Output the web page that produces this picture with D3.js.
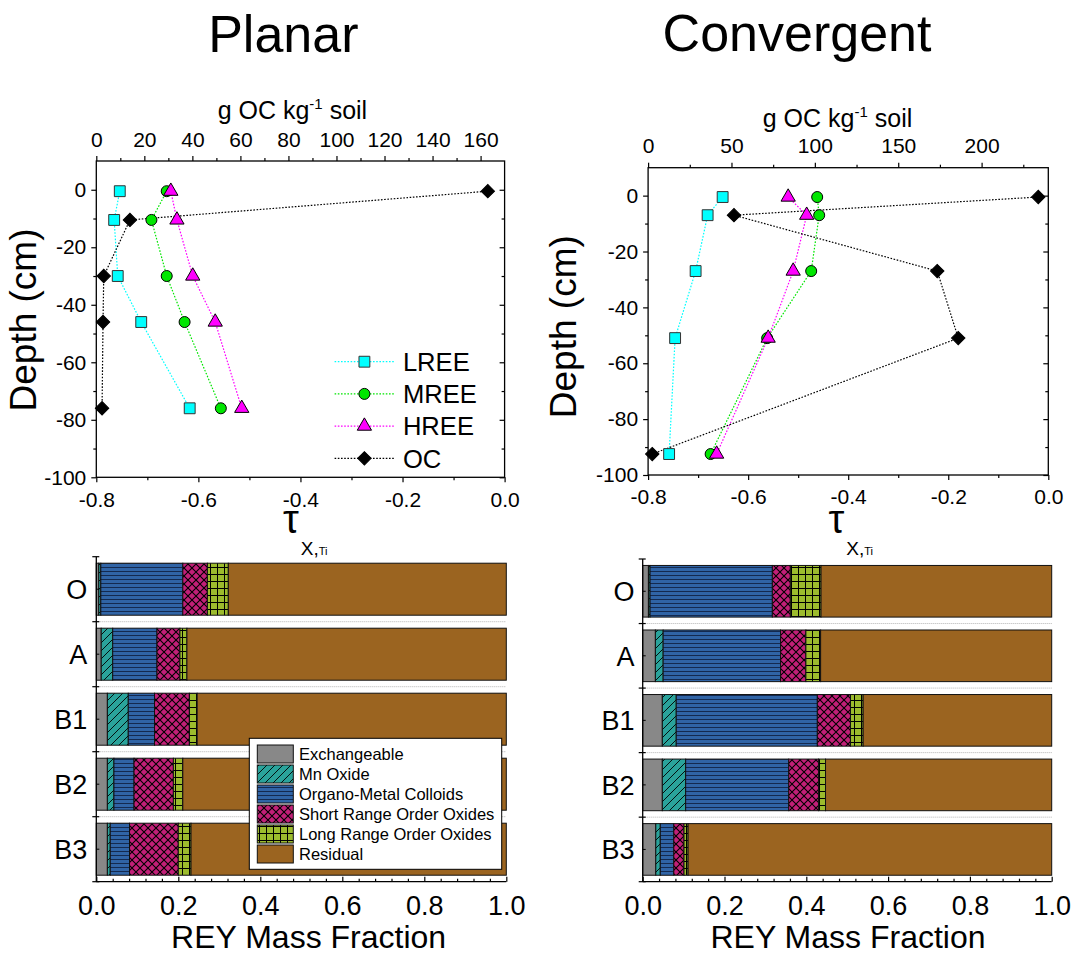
<!DOCTYPE html>
<html><head><meta charset="utf-8">
<script src="https://cdn.jsdelivr.net/npm/d3@7"></script>
<style>
body{margin:0;background:#fff;}
svg{font-family:"Liberation Sans",Arial,Helvetica,sans-serif;}
</style></head><body>
<svg id="chart" width="1073" height="956"></svg>
<script>
// ---------------- DATA ----------------
const seriesNames = ["LREE", "MREE", "HREE", "OC"];

const planarDepth = [-0.5, -10.5, -30, -46, -76];
const planarLREE  = [-0.754, -0.765, -0.758, -0.712, -0.617];
const planarMREE  = [-0.662, -0.692, -0.662, -0.627, -0.556];
const planarHREE  = [-0.654, -0.642, -0.611, -0.567, -0.515];
const planarOC    = [163, 14, 3.1, 2.8, 2.4];

const convDepth = [-0.5, -7, -27, -51, -92.5];
const convLREE  = [-0.651, -0.681, -0.705, -0.746, -0.758];
const convMREE  = [-0.462, -0.458, -0.474, -0.562, -0.675];
const convHREE  = [-0.520, -0.483, -0.510, -0.560, -0.663];
const convOC    = [234, 51.5, 173.4, 186, 2.5];

const depthTicks = [-100, -80, -60, -40, -20, 0];
const tauTicks = [-0.8, -0.6, -0.4, -0.2, 0.0];
const planarOCTicks = [0, 20, 40, 60, 80, 100, 120, 140, 160];
const convOCTicks = [0, 50, 100, 150, 200];
const fractionTicks = [0, 0.2, 0.4, 0.6, 0.8, 1.0];

const horizons = ["O", "A", "B1", "B2", "B3"];
const fractionNames = ["Exchangeable", "Mn Oxide", "Organo-Metal Colloids",
  "Short Range Order Oxides", "Long Range Order Oxides", "Residual"];

const planarExchangeable = [0.006, 0.012, 0.027, 0.027, 0.027];
const planarMnOxide      = [0.005, 0.028, 0.051, 0.016, 0.007];
const planarOrganoMetal  = [0.200, 0.108, 0.064, 0.049, 0.047];
const planarSRO          = [0.060, 0.056, 0.085, 0.096, 0.119];
const planarLRO          = [0.051, 0.017, 0.019, 0.023, 0.031];
const planarResidual     = [0.678, 0.779, 0.754, 0.789, 0.769];

const convExchangeable = [0.014, 0.031, 0.048, 0.048, 0.032];
const convMnOxide      = [0.004, 0.019, 0.034, 0.057, 0.011];
const convOrganoMetal  = [0.299, 0.287, 0.345, 0.252, 0.033];
const convSRO          = [0.044, 0.062, 0.081, 0.073, 0.025];
const convLRO          = [0.075, 0.036, 0.031, 0.017, 0.010];
const convResidual     = [0.564, 0.565, 0.461, 0.553, 0.889];

// ---------------- STYLE ----------------
const svg = d3.select("#chart");
const seriesColor = {LREE: "#00ffff", MREE: "#00e600", HREE: "#ff00ff", OC: "#000000"};
const seriesStroke = {LREE: "#333333", MREE: "#000", HREE: "#000", OC: "#000"};
const seriesSymbol = {
  LREE: d3.symbol().type(d3.symbolSquare).size(118)(),
  MREE: d3.symbol().type(d3.symbolCircle).size(95)(),
  HREE: d3.symbol().type(d3.symbolTriangle).size(88)(),
  OC:   d3.symbol().type(d3.symbolSquare).size(90)()
};
const seriesRotate = {LREE: 0, MREE: 0, HREE: 0, OC: 45};

const defs = svg.append("defs");
function pattern(id, w, h, bg, draw) {
  const p = defs.append("pattern").attr("id", id).attr("patternUnits", "userSpaceOnUse")
    .attr("width", w).attr("height", h);
  p.append("rect").attr("width", w).attr("height", h).attr("fill", bg);
  draw(p);
}
pattern("p-mn", 8, 8, "#2aa39b", p => p.append("path")
  .attr("d", "M-2,2L2,-2M0,8L8,0M6,10L10,6").attr("stroke", "#000").attr("stroke-width", 0.9));
pattern("p-org", 8, 4, "#3064a6", p => p.append("rect")
  .attr("y", 3).attr("width", 8).attr("height", 1).attr("fill", "#142a50"));
pattern("p-sro", 8, 8, "#c21f78", p => p.append("path")
  .attr("d", "M0,0L8,8M8,0L0,8").attr("stroke", "#000").attr("stroke-width", 1.1));
pattern("p-lro", 7, 7, "#9cbb2d", p => p.append("path")
  .attr("d", "M0,0.5H7M0.5,0V7").attr("stroke", "#000").attr("stroke-width", 1));
const fractionFill = ["#888888", "url(#p-mn)", "url(#p-org)", "url(#p-sro)", "url(#p-lro)", "#9b6420"];

function styleAxis(g, size) {
  g.select(".domain").remove();
  g.selectAll("line").attr("stroke", "#000").attr("stroke-width", 1.2);
  g.selectAll("text").attr("font-size", size).attr("fill", "#000")
    .attr("font-family", '"Liberation Sans", Arial, sans-serif');
}
const fmtInt = d => String(d);
const fmt1 = d => d.toFixed(1);

// ---------------- PROFILE PLOTS ----------------
function profile(cfg) {
  const g = svg.append("g");
  const y = d3.scaleLinear().domain([-100, 10]).range([cfg.y1, cfg.y0]);
  const x = d3.scaleLinear().domain([-0.8, 0]).range([cfg.x0, cfg.x1]);
  const xo = d3.scaleLinear().domain([0, cfg.ocMax]).range([cfg.x0, cfg.x1]);

  const depthMinor = depthTicks.slice(0, -1).map(d => d + 10);
  const tauMinor = tauTicks.slice(0, -1).map(d => d + 0.1);
  const ocStep = cfg.ocTicks[1] - cfg.ocTicks[0];
  const ocMinor = cfg.ocTicks.map(d => d + ocStep / 2).filter(d => d < cfg.ocMax - 1);

  g.append("g").attr("transform", `translate(${cfg.x0},0)`)
    .call(d3.axisLeft(y).tickValues(depthTicks).tickSize(5).tickSizeOuter(0).tickPadding(5).tickFormat(fmtInt))
    .call(a => styleAxis(a, 21));
  g.append("g").attr("transform", `translate(${cfg.x0},0)`)
    .call(d3.axisLeft(y).tickValues(depthMinor).tickSize(3).tickSizeOuter(0).tickFormat(""))
    .call(a => styleAxis(a, 21));
  g.append("g").attr("transform", `translate(${cfg.x1},0)`)
    .call(d3.axisRight(y).tickValues(depthTicks).tickSize(-5).tickSizeOuter(0).tickFormat(""))
    .call(a => styleAxis(a, 21));
  g.append("g").attr("transform", `translate(${cfg.x1},0)`)
    .call(d3.axisRight(y).tickValues(depthMinor).tickSize(-3).tickSizeOuter(0).tickFormat(""))
    .call(a => styleAxis(a, 21));
  g.append("g").attr("transform", `translate(0,${cfg.y1})`)
    .call(d3.axisBottom(x).tickValues(tauTicks).tickSize(5).tickSizeOuter(0).tickPadding(9.5).tickFormat(fmt1))
    .call(a => styleAxis(a, 21));
  g.append("g").attr("transform", `translate(0,${cfg.y1})`)
    .call(d3.axisBottom(x).tickValues(tauMinor).tickSize(3).tickSizeOuter(0).tickFormat(""))
    .call(a => styleAxis(a, 21));
  g.append("g").attr("transform", `translate(0,${cfg.y0})`)
    .call(d3.axisTop(xo).tickValues(cfg.ocTicks).tickSize(5).tickSizeOuter(0).tickPadding(9.5).tickFormat(fmtInt))
    .call(a => styleAxis(a, 21));
  g.append("g").attr("transform", `translate(0,${cfg.y0})`)
    .call(d3.axisTop(xo).tickValues(ocMinor).tickSize(3).tickSizeOuter(0).tickFormat(""))
    .call(a => styleAxis(a, 21));

  g.append("rect").attr("x", cfg.x0).attr("y", cfg.y0)
    .attr("width", cfg.x1 - cfg.x0).attr("height", cfg.y1 - cfg.y0)
    .attr("fill", "none").attr("stroke", "#000").attr("stroke-width", 1.3);

  const series = [
    {name: "LREE", vals: cfg.lree, xs: x},
    {name: "MREE", vals: cfg.mree, xs: x},
    {name: "HREE", vals: cfg.hree, xs: x},
    {name: "OC", vals: cfg.oc, xs: xo}
  ];
  const line = d3.line();
  series.forEach(s => {
    const pts = s.vals.map((v, i) => [s.xs(v), y(cfg.depth[i])]);
    g.append("path").attr("d", line(pts)).attr("fill", "none")
      .attr("stroke", seriesColor[s.name]).attr("stroke-width", 1.2)
      .attr("stroke-dasharray", "1.6,1.6");
  });
  series.forEach(s => {
    g.selectAll(null).data(s.vals).enter().append("path")
      .attr("d", seriesSymbol[s.name])
      .attr("transform", (v, i) => `translate(${s.xs(v)},${y(cfg.depth[i])}) rotate(${seriesRotate[s.name]})`)
      .attr("fill", seriesColor[s.name]).attr("stroke", seriesStroke[s.name]).attr("stroke-width", 1);
  });

  svg.append("text").attr("transform", `translate(${cfg.depthTitle[0]},${cfg.depthTitle[1]}) rotate(-90)`)
    .attr("text-anchor", "middle").attr("font-size", 37).text("Depth (cm)");
  const t = svg.append("text").attr("x", cfg.ocTitle[0]).attr("y", cfg.ocTitle[1])
    .attr("text-anchor", "middle").attr("font-size", 25);
  t.append("tspan").text("g OC kg");
  t.append("tspan").attr("dy", -10).attr("font-size", 15).text("-1");
  t.append("tspan").attr("dy", 10).text(" soil");
  const tau = svg.append("text").attr("x", cfg.tauTitle[0]).attr("y", cfg.tauTitle[1]).attr("font-size", 40);
  tau.append("tspan").text("τ");
  tau.append("tspan").attr("dy", 22).attr("dx", 2).attr("font-size", 19).text("X,");
  tau.append("tspan").attr("font-size", 11).text("Ti");
  svg.append("text").attr("x", cfg.title[0]).attr("y", cfg.title[1]).attr("text-anchor", "middle")
    .attr("font-size", 52).text(cfg.titleText);

  if (cfg.legend) {
    const lg = g.append("g");
    seriesNames.forEach((n, i) => {
      const yy = 361.7 + i * 32.2;
      lg.append("line").attr("x1", 334.6).attr("x2", 394.9).attr("y1", yy).attr("y2", yy)
        .attr("stroke", seriesColor[n]).attr("stroke-width", 1.2).attr("stroke-dasharray", "1.6,1.6");
      lg.append("path").attr("d", seriesSymbol[n])
        .attr("transform", `translate(364.4,${yy}) rotate(${seriesRotate[n]})`)
        .attr("fill", seriesColor[n]).attr("stroke", seriesStroke[n]).attr("stroke-width", 1);
      lg.append("text").attr("x", 402.9).attr("y", yy).attr("dy", "0.36em")
        .attr("font-size", 25.6).text(n);
    });
  }
}

profile({
  x0: 96.3, x1: 504.6, y0: 161, y1: 477.3, ocMax: 170, ocTicks: planarOCTicks,
  depth: planarDepth, lree: planarLREE, mree: planarMREE, hree: planarHREE, oc: planarOC,
  depthTitle: [36, 320], ocTitle: [292.4, 119.3], tauTitle: [283, 533], title: [283.3, 52],
  titleText: "Planar", legend: true
});
profile({
  x0: 648.1, x1: 1048.3, y0: 167.7, y1: 475, ocMax: 240, ocTicks: convOCTicks,
  depth: convDepth, lree: convLREE, mree: convMREE, hree: convHREE, oc: convOC,
  depthTitle: [576.4, 326.7], ocTitle: [837.5, 126.7], tauTitle: [828.5, 533], title: [797, 51],
  titleText: "Convergent", legend: false
});

// ---------------- BAR PLOTS ----------------
function bars(cfg) {
  const g = svg.append("g");
  const x = d3.scaleLinear().domain([0, 1]).range([cfg.x0, cfg.x1]);
  const y = d3.scaleBand().domain(horizons).range([cfg.y0, cfg.y1]).paddingInner(0.2).paddingOuter(0.1);
  const step = y.step();

  horizons.slice(1).forEach(h => {
    const yy = y(h) - step * 0.1;
    g.append("line").attr("x1", cfg.x0).attr("x2", cfg.x1).attr("y1", yy).attr("y2", yy)
      .attr("stroke", "#b3b3b3").attr("stroke-width", 1).attr("stroke-dasharray", "1,1");
  });

  const rows = horizons.map((h, i) => {
    const r = {h};
    fractionNames.forEach((k, j) => r[k] = cfg.arrays[j][i]);
    return r;
  });
  const stacked = d3.stack().keys(fractionNames)(rows);
  stacked.forEach((layer, j) => {
    g.selectAll(null).data(layer).enter().append("rect")
      .attr("x", d => x(d[0])).attr("width", d => x(d[1]) - x(d[0]))
      .attr("y", d => y(d.data.h)).attr("height", y.bandwidth())
      .attr("fill", fractionFill[j]).attr("stroke", "#111").attr("stroke-width", 1);
  });

  const bounds = d3.range(horizons.length + 1).map(i => cfg.y0 + i * step);
  const la = g.append("g");
  la.append("line").attr("x1", cfg.x0).attr("x2", cfg.x0).attr("y1", cfg.y0).attr("y2", cfg.y1)
    .attr("stroke", "#000").attr("stroke-width", 1.3);
  bounds.forEach(b => la.append("line").attr("x1", cfg.x0 - 4).attr("x2", cfg.x0 + 3)
    .attr("y1", b).attr("y2", b).attr("stroke", "#000").attr("stroke-width", 1.2));
  horizons.forEach(h => {
    const c = y(h) + y.bandwidth() / 2;
    la.append("line").attr("x1", cfg.x0).attr("x2", cfg.x0 + 3).attr("y1", c).attr("y2", c)
      .attr("stroke", "#000").attr("stroke-width", 1);
    la.append("text").attr("x", cfg.labelX).attr("y", c).attr("dy", "0.36em")
      .attr("text-anchor", "end").attr("font-size", 27).text(h);
  });

  const minor = d3.range(0.04, 1.0, 0.04).filter(v => Math.abs(v * 5 - Math.round(v * 5)) > 1e-6);
  g.append("line").attr("x1", cfg.x0).attr("x2", cfg.x1).attr("y1", cfg.y1).attr("y2", cfg.y1)
    .attr("stroke", "#000").attr("stroke-width", 1.3);
  g.append("g").attr("transform", `translate(0,${cfg.y1})`)
    .call(d3.axisBottom(x).tickValues(fractionTicks).tickSize(-5).tickSizeOuter(0).tickPadding(14).tickFormat(fmt1))
    .call(a => styleAxis(a, 27));
  g.append("g").attr("transform", `translate(0,${cfg.y1})`)
    .call(d3.axisBottom(x).tickValues(minor).tickSize(-3).tickSizeOuter(0).tickFormat(""))
    .call(a => styleAxis(a, 27));
  svg.append("text").attr("x", cfg.titleX).attr("y", 948).attr("text-anchor", "middle")
    .attr("font-size", 32).text("REY Mass Fraction");

  if (cfg.legend) {
    const lg = g.append("g");
    lg.append("rect").attr("x", 249.3).attr("y", 738.3).attr("width", 252.4).attr("height", 131)
      .attr("fill", "#fff").attr("stroke", "#000").attr("stroke-width", 1);
    fractionNames.forEach((n, i) => {
      const yy = 745 + i * 20;
      lg.append("rect").attr("x", 257.3).attr("y", yy).attr("width", 36).attr("height", 18)
        .attr("fill", fractionFill[i]).attr("stroke", "#111").attr("stroke-width", 1);
      lg.append("text").attr("x", 299).attr("y", yy + 9).attr("dy", "0.36em")
        .attr("font-size", 16.5).text(n);
    });
  }
}

bars({
  x0: 96.3, x1: 506.3, y0: 556.7, y1: 881.7, labelX: 87.2, titleX: 308.6, legend: true,
  arrays: [planarExchangeable, planarMnOxide, planarOrganoMetal, planarSRO, planarLRO, planarResidual]
});
bars({
  x0: 642.7, x1: 1051.7, y0: 559, y1: 881.7, labelX: 634.5, titleX: 848, legend: false,
  arrays: [convExchangeable, convMnOxide, convOrganoMetal, convSRO, convLRO, convResidual]
});
</script>
</body></html>
